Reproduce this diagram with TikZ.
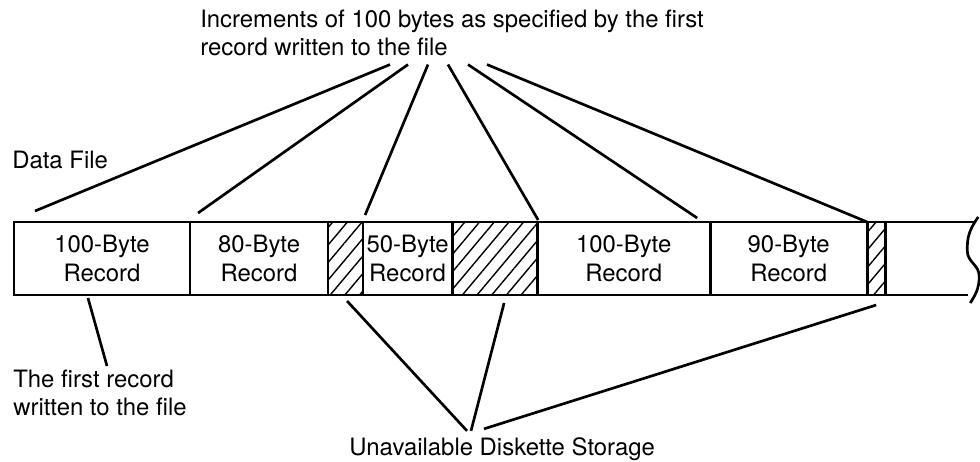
\documentclass[tikz,border=0pt]{standalone}
\usepackage{fontspec}
\setmainfont{TeX Gyre Heros}
\usetikzlibrary{
positioning,
calc,
patterns.meta
}

\begin{document}
\begin{tikzpicture}[
x=0.025cm, y=-0.025cm,
node distance=0pt,
font=\fontsize{17}{20}\selectfont,
rec/.style={
draw,
line width=2pt,
minimum height=1.825cm,
inner sep=0pt,
outer sep=0pt,
align=center
},
gap/.style={
rec,
pattern={Lines[angle=50,distance=8pt,line width=1pt]}
},
lbl/.style={inner sep=0pt, align=left},
lead/.style={line width=1.9pt}
]

\useasboundingbox (0,0) rectangle (980,461);

% the data file strip
\node[rec, minimum width=4.4cm, anchor=north west] (r100a) at (14,222) {100-Byte\\Record};
\node[rec, minimum width=3.45cm, right=of r100a] (r80) {80-Byte\\Record};
\node[gap, minimum width=0.875cm, right=of r80] (g1) {};
\node[rec, minimum width=2.225cm, right=of g1] (r50) {50-Byte\\Record};
\node[gap, minimum width=2.125cm, right=of r50] (g2) {};
\node[rec, minimum width=4.325cm, right=of g2] (r100b) {100-Byte\\Record};
\node[rec, minimum width=3.925cm, right=of r100b] (r90) {90-Byte\\Record};
\node[gap, minimum width=0.45cm, right=of r90] (g3) {};
\node[minimum width=2.25cm, minimum height=1.825cm, inner sep=0pt, outer sep=0pt, right=of g3] (tail) {};

\draw[rec] (tail.north west) -- (tail.north east);
\draw[rec] (tail.south west) -- ([xshift=-5]tail.south east);
\draw[lead] ([shift={(3,-5)}]tail.north east)
  .. controls +(-10,14) and +(0,-12) .. ([shift={(-8,-8)}]tail.east)
  .. controls +(0,12) and +(0,-12) .. ([shift={(4,18)}]tail.east)
  .. controls +(0,12) and +(5,-8) .. ([shift={(-5,8)}]tail.south east);

% labels
\node[lbl, anchor=north west] (incr) at (200,10) {Increments of 100 bytes as specified by the first\\record written to the file};
\node[lbl, anchor=base west] (dfile) at (12,168) {Data File};
\node[lbl, anchor=north west] (first) at (13,370) {The first record\\written to the file};
\node[lbl, anchor=base west] (unav) at (349,455) {Unavailable Diskette Storage};

% increments
\draw[lead] ([shift={(190,8)}]incr.south west) -- ([shift={(21,-11)}]r100a.north west);
\draw[lead] ([shift={(208,8)}]incr.south west) -- ([shift={(8,-9)}]r80.north west);
\draw[lead] ([shift={(228,8)}]incr.south west) -- ([shift={(2,-7)}]r50.north west);
\draw[lead] ([shift={(248,8)}]incr.south west) -- ([shift={(1,-2)}]r100b.north west);
\draw[lead] ([shift={(268,8)}]incr.south west) -- ([shift={(-13,-4)}]r100b.north east);
\draw[lead] ([shift={(287,8)}]incr.south west) -- (g3.north west);

% first record
\draw[lead] ([shift={(74,3)}]r100a.south west) -- ([shift={(94,-4)}]first.north west);

% unavailable storage
\draw[lead] ([shift={(19,6)}]g1.south west) -- ([shift={(118,-6)}]unav.north west);
\draw[lead] ([shift={(52,8)}]g2.south west) -- ([shift={(122,-6)}]unav.north west);
\draw[lead] ([shift={(9,10)}]g3.south west) -- ([shift={(135,-8)}]unav.north west);

\end{tikzpicture}
\end{document}
